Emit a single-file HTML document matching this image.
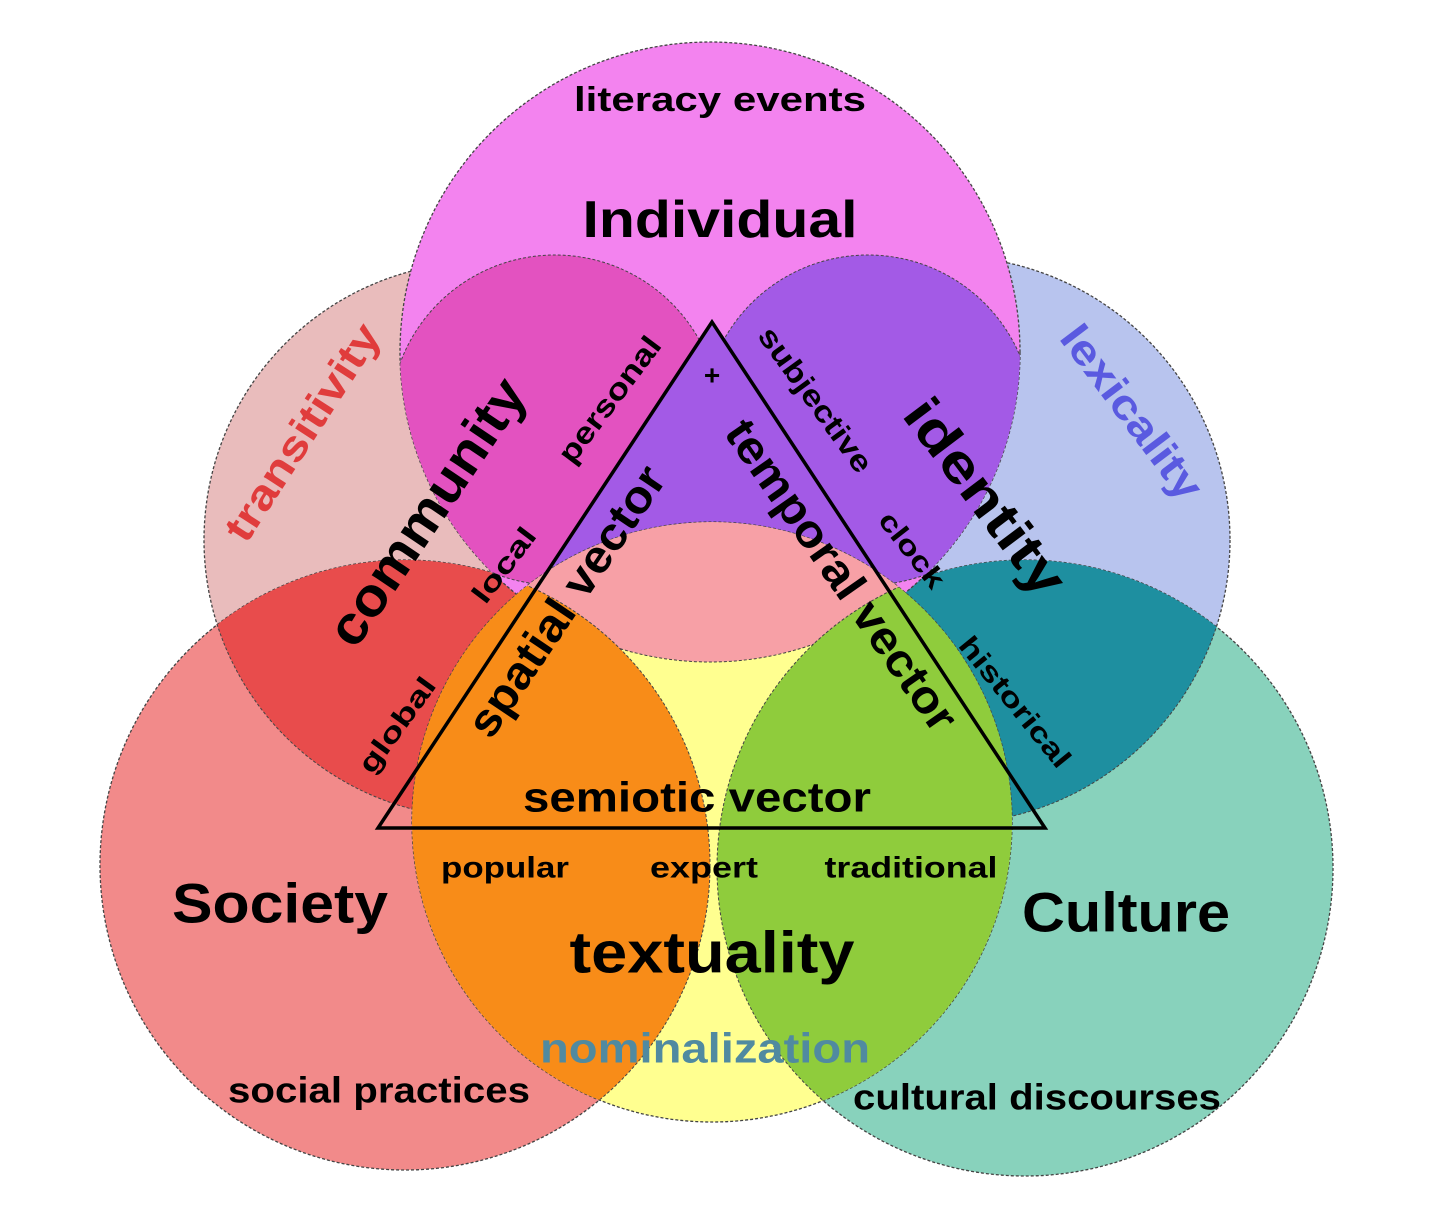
<!DOCTYPE html>
<html><head><meta charset="utf-8"><style>
html,body{margin:0;padding:0;background:#fff}
svg{display:block}
text{font-family:"Liberation Sans",sans-serif;text-anchor:middle;dominant-baseline:central;fill:#000;font-weight:bold}
</style></head><body>
<svg width="1432" height="1222" viewBox="0 0 1432 1222" xmlns="http://www.w3.org/2000/svg">
<defs>
<clipPath id="cM"><circle cx="710" cy="352" r="310"/></clipPath>
<clipPath id="cY"><circle cx="712" cy="822" r="300"/></clipPath>
<clipPath id="cS"><circle cx="405" cy="865" r="305"/></clipPath>
<clipPath id="cC"><circle cx="1025" cy="868" r="308"/></clipPath>
</defs>
<g stroke="#444" stroke-width="1.3" stroke-dasharray="3 2">
<circle cx="482" cy="540" r="278" fill="#e9bcbc"/>
<circle cx="946" cy="540" r="284" fill="#b8c4ee"/>
<circle cx="405" cy="865" r="305" fill="#f28a8a"/>
<circle cx="1025" cy="868" r="308" fill="#88d2bc"/>
</g>
<g clip-path="url(#cS)"><circle cx="482" cy="540" r="278" fill="#e84c4c" stroke="#444" stroke-dasharray="3 2"/></g>
<g clip-path="url(#cC)"><circle cx="946" cy="540" r="284" fill="#1e8fa0" stroke="#444" stroke-dasharray="3 2"/></g>
<circle cx="710" cy="352" r="310" fill="#f383ef" stroke="#444" stroke-width="1.3" stroke-dasharray="3 2"/>
<g clip-path="url(#cM)">
<circle cx="555" cy="420" r="165" fill="#e352c0" stroke="#444" stroke-dasharray="3 2"/>
<circle cx="868" cy="420" r="165" fill="#a35ae6" stroke="#444" stroke-dasharray="3 2"/>
<polygon points="712,322 378,828 1045,828" fill="#a35ae6"/>
</g>
<circle cx="712" cy="822" r="300" fill="#ffff90" stroke="#444" stroke-width="1.3" stroke-dasharray="3 2"/>
<g clip-path="url(#cY)" stroke="#444" stroke-dasharray="3 2">
<circle cx="710" cy="352" r="310" fill="#f7a0a6"/>
<circle cx="405" cy="865" r="305" fill="#f88c18"/>
<circle cx="1025" cy="868" r="308" fill="#8fcc3c"/>
</g>
<polygon points="712,322 378,828 1045,828" fill="none" stroke="#000" stroke-width="3.5"/>
<text x="720" y="100" font-size="34" textLength="292" lengthAdjust="spacingAndGlyphs">literacy events</text>
<text x="720" y="220" font-size="52" textLength="275" lengthAdjust="spacingAndGlyphs">Individual</text>
<text x="302" y="432" font-size="42" style="fill:#e03c3c" textLength="250" lengthAdjust="spacingAndGlyphs" transform="rotate(-57 302 432)">transitivity</text>
<text x="1132" y="412" font-size="42" style="fill:#5a5ae0" textLength="207" lengthAdjust="spacingAndGlyphs" transform="rotate(53 1132 412)">lexicality</text>
<text x="427" y="512" font-size="54" textLength="310" lengthAdjust="spacingAndGlyphs" transform="rotate(-56 427 512)">community</text>
<text x="610" y="400" font-size="30" textLength="150" lengthAdjust="spacingAndGlyphs" transform="rotate(-53 610 400)">personal</text>
<text x="815" y="400" font-size="30" textLength="172" lengthAdjust="spacingAndGlyphs" transform="rotate(54 815 400)">subjective</text>
<text x="985" y="497" font-size="54" textLength="232" lengthAdjust="spacingAndGlyphs" transform="rotate(53 985 497)">identity</text>
<text x="712" y="375" font-size="28">+</text>
<text x="842" y="575" font-size="46" textLength="369" lengthAdjust="spacingAndGlyphs" transform="rotate(55 842 575)">temporal vector</text>
<text x="566" y="601" font-size="46" textLength="316" lengthAdjust="spacingAndGlyphs" transform="rotate(-56 566 601)">spatial vector</text>
<text x="504" y="565" font-size="28" textLength="87" lengthAdjust="spacingAndGlyphs" transform="rotate(-53 504 565)">local</text>
<text x="397" y="725" font-size="28" textLength="111" lengthAdjust="spacingAndGlyphs" transform="rotate(-54 397 725)">global</text>
<text x="912" y="550" font-size="28" textLength="89" lengthAdjust="spacingAndGlyphs" transform="rotate(52 912 550)">clock</text>
<text x="1015" y="702" font-size="28" textLength="160" lengthAdjust="spacingAndGlyphs" transform="rotate(51 1015 702)">historical</text>
<text x="697" y="797" font-size="42" textLength="348" lengthAdjust="spacingAndGlyphs">semiotic vector</text>
<text x="505" y="868" font-size="30" textLength="128" lengthAdjust="spacingAndGlyphs">popular</text>
<text x="704" y="868" font-size="30" textLength="108" lengthAdjust="spacingAndGlyphs">expert</text>
<text x="911" y="868" font-size="30" textLength="173" lengthAdjust="spacingAndGlyphs">traditional</text>
<text x="280" y="903" font-size="56" textLength="216" lengthAdjust="spacingAndGlyphs">Society</text>
<text x="1126" y="912" font-size="56" textLength="208" lengthAdjust="spacingAndGlyphs">Culture</text>
<text x="712" y="953" font-size="58" textLength="285" lengthAdjust="spacingAndGlyphs">textuality</text>
<text x="705" y="1048" font-size="42" style="fill:#508aa0" textLength="330" lengthAdjust="spacingAndGlyphs">nominalization</text>
<text x="379" y="1090" font-size="36" textLength="302" lengthAdjust="spacingAndGlyphs">social practices</text>
<text x="1037" y="1097" font-size="36" textLength="368" lengthAdjust="spacingAndGlyphs">cultural discourses</text>
</svg>
</body></html>
